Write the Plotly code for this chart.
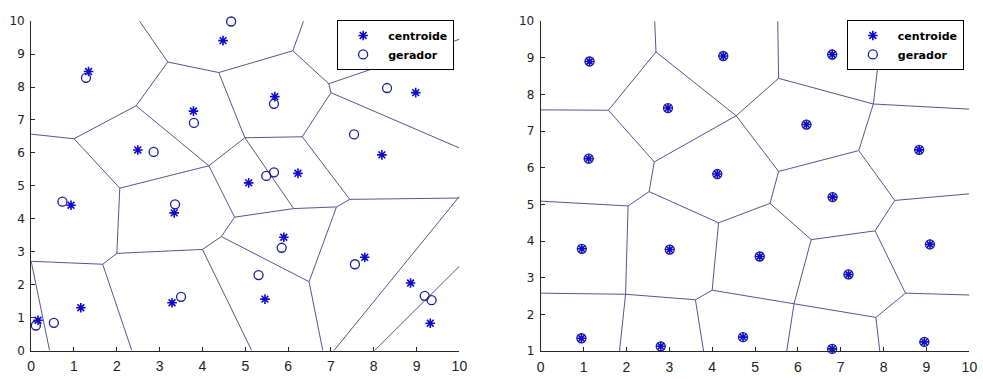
import plotly.graph_objects as go

# ---------------- left panel data ----------------
left_centroid_x = [1.34, 4.48, 3.79, 2.49, 5.69, 8.98, 8.19, 6.23, 5.08, 0.93, 3.34, 1.16, 3.29, 0.16, 5.90, 5.46, 7.79, 8.86, 9.32]
left_centroid_y = [8.47, 9.41, 7.27, 6.09, 7.71, 7.83, 5.94, 5.38, 5.09, 4.41, 4.18, 1.30, 1.45, 0.92, 3.44, 1.56, 2.83, 2.05, 0.83]
left_gen_x = [1.28, 4.67, 3.80, 2.86, 5.67, 8.31, 7.54, 5.67, 5.49, 0.73, 3.36, 3.50, 0.11, 0.53, 5.85, 5.31, 7.56, 9.19, 9.35]
left_gen_y = [8.28, 9.99, 6.91, 6.03, 7.49, 7.97, 6.56, 5.41, 5.30, 4.52, 4.44, 1.63, 0.76, 0.84, 3.12, 2.29, 2.62, 1.66, 1.53]

# Voronoi edges (x0, y0, x1, y1)
left_edges = [
    (2.53, 10.0, 3.19, 8.76), (3.19, 8.76, 4.38, 8.44), (4.38, 8.44, 6.11, 9.10),
    (6.11, 9.10, 6.36, 10.0), (6.11, 9.10, 6.95, 8.10), (6.95, 8.10, 7.00, 7.83),
    (6.95, 8.10, 10.0, 9.45), (7.00, 7.83, 10.0, 6.15), (7.00, 7.83, 6.33, 6.49),
    (6.33, 6.49, 4.99, 6.46), (4.99, 6.46, 4.38, 8.44), (4.99, 6.46, 4.15, 5.61),
    (4.99, 6.46, 6.13, 4.31), (6.33, 6.49, 7.44, 4.59), (7.44, 4.59, 10.0, 4.63),
    (7.44, 4.59, 7.13, 4.36), (7.13, 4.36, 6.13, 4.31), (7.13, 4.36, 6.49, 2.09),
    (6.49, 2.09, 6.81, 0.0), (6.49, 2.09, 4.44, 3.46), (6.13, 4.31, 4.75, 4.05),
    (4.75, 4.05, 4.15, 5.61), (4.75, 4.05, 4.44, 3.46), (4.44, 3.46, 4.00, 3.07),
    (4.00, 3.07, 5.15, 0.0), (4.00, 3.07, 2.00, 2.95), (2.00, 2.95, 2.07, 4.93),
    (2.07, 4.93, 4.15, 5.61), (2.07, 4.93, 1.00, 6.43), (1.00, 6.43, 0.0, 6.57),
    (1.00, 6.43, 2.45, 7.43), (2.45, 7.43, 3.19, 8.76), (2.45, 7.43, 4.15, 5.61),
    (2.00, 2.95, 1.67, 2.62), (1.67, 2.62, 2.35, 0.0), (1.67, 2.62, 0.0, 2.71),
    (0.0, 2.71, 0.43, 0.0), (10.0, 4.68, 7.07, 0.0), (10.0, 2.56, 8.02, 0.0),
]

# ---------------- right panel data ----------------
right_x = [1.14, 4.26, 6.80, 2.97, 6.20, 1.12, 4.12, 8.83, 6.81, 0.96, 3.01, 5.11, 9.08, 7.18, 0.95, 2.80, 4.72, 6.80, 8.95]
right_y = [8.90, 9.05, 9.09, 7.63, 7.18, 6.25, 5.83, 6.49, 5.20, 3.79, 3.77, 3.58, 3.91, 3.09, 1.35, 1.13, 1.38, 1.06, 1.25]

right_edges = [
    (2.66, 10.0, 2.69, 9.16), (2.69, 9.16, 1.58, 7.57), (1.58, 7.57, 0.0, 7.58),
    (1.58, 7.57, 2.65, 6.16), (2.69, 9.16, 4.56, 7.42), (2.65, 6.16, 4.56, 7.42),
    (4.56, 7.42, 5.55, 8.44), (5.55, 8.44, 5.53, 10.0), (5.55, 8.44, 7.76, 7.74),
    (7.76, 7.74, 7.99, 10.0), (7.76, 7.74, 10.0, 7.60), (7.76, 7.74, 7.42, 6.47),
    (7.42, 6.47, 5.55, 5.90), (5.55, 5.90, 4.56, 7.42), (5.55, 5.90, 5.35, 5.03),
    (2.65, 6.16, 2.53, 5.35), (2.53, 5.35, 2.04, 4.96), (2.04, 4.96, 0.0, 5.09),
    (2.04, 4.96, 1.98, 2.55), (1.98, 2.55, 0.0, 2.58), (1.98, 2.55, 1.84, 1.0),
    (1.98, 2.55, 3.61, 2.40), (3.61, 2.40, 3.80, 1.0), (3.61, 2.40, 4.00, 2.66),
    (2.53, 5.35, 4.15, 4.50), (4.15, 4.50, 4.00, 2.66), (4.15, 4.50, 5.35, 5.03),
    (5.35, 5.03, 6.31, 4.04), (6.31, 4.04, 7.80, 4.28), (7.80, 4.28, 8.26, 5.11),
    (8.26, 5.11, 7.42, 6.47), (8.26, 5.11, 10.0, 5.29), (7.80, 4.28, 8.51, 2.58),
    (8.51, 2.58, 10.0, 2.53), (8.51, 2.58, 7.82, 1.92), (7.82, 1.92, 7.91, 1.0),
    (7.82, 1.92, 5.91, 2.29), (5.91, 2.29, 6.31, 4.04), (5.91, 2.29, 5.74, 1.0),
    (4.00, 2.66, 5.91, 2.29),
]

ticks_x = list(range(0, 11))
ticks_left_y = list(range(0, 11))
ticks_right_y = list(range(1, 11))

LINE_COLOR = "#55558f"
STAR_COLOR = "#0a0ad0"
CIRC_COLOR = "#1c1c96"
AXIS_COLOR = "#262626"


def seg_xy(edges):
    xs, ys = [], []
    for x0, y0, x1, y1 in edges:
        xs += [x0, x1, None]
        ys += [y0, y1, None]
    return xs, ys


star_marker = dict(symbol="asterisk-open", size=8, color=STAR_COLOR, line=dict(color=STAR_COLOR, width=1.6))
circ_marker = dict(symbol="circle-open", size=9, color=CIRC_COLOR, line=dict(color=CIRC_COLOR, width=1.3))

fig = go.Figure()

lx, ly = seg_xy(left_edges)
fig.add_trace(go.Scatter(x=lx, y=ly, mode="lines", line=dict(color=LINE_COLOR, width=1),
                         showlegend=False, hoverinfo="skip", xaxis="x", yaxis="y"))
fig.add_trace(go.Scatter(x=left_centroid_x, y=left_centroid_y, mode="markers", name="centroide",
                         marker=star_marker, cliponaxis=False, legend="legend", xaxis="x", yaxis="y"))
fig.add_trace(go.Scatter(x=left_gen_x, y=left_gen_y, mode="markers", name="gerador",
                         marker=circ_marker, cliponaxis=False, legend="legend", xaxis="x", yaxis="y"))

rx, ry = seg_xy(right_edges)
fig.add_trace(go.Scatter(x=rx, y=ry, mode="lines", line=dict(color=LINE_COLOR, width=1),
                         showlegend=False, hoverinfo="skip", xaxis="x2", yaxis="y2"))
fig.add_trace(go.Scatter(x=right_x, y=right_y, mode="markers", name="centroide",
                         marker=star_marker, cliponaxis=False, legend="legend2", xaxis="x2", yaxis="y2"))
fig.add_trace(go.Scatter(x=right_x, y=right_y, mode="markers", name="gerador",
                         marker=circ_marker, cliponaxis=False, legend="legend2", xaxis="x2", yaxis="y2"))

axis_common = dict(showgrid=False, zeroline=False, showline=True, linecolor=AXIS_COLOR, linewidth=1,
                   ticks="inside", ticklen=4, tickcolor=AXIS_COLOR, mirror=False)
xfont = dict(family="Liberation Sans, Arial", size=14, color="#222222")
yfont = dict(family="DejaVu Sans, Arial", size=12, color="#222222")

legend_common = dict(bgcolor="white", bordercolor="black", borderwidth=1,
                     font=dict(family="DejaVu Sans", size=11, color="black", weight="bold"),
                     xanchor="left", yanchor="top", tracegroupgap=0, itemwidth=40)

fig.update_layout(
    width=983, height=379,
    margin=dict(l=0, r=0, t=0, b=0),
    paper_bgcolor="white", plot_bgcolor="white",
    xaxis=dict(domain=[0.02798, 0.4690], range=[0, 10], tickvals=ticks_x, anchor="y",
               tickfont=xfont, ticklabelstandoff=3, **axis_common),
    yaxis=dict(domain=[0.0588, 0.9612], range=[0, 10], tickvals=ticks_left_y, anchor="x",
               tickfont=yfont, ticklabelstandoff=3, **axis_common),
    xaxis2=dict(domain=[0.5527, 0.9942], range=[0, 10], tickvals=ticks_x, anchor="y2",
                tickfont=xfont, ticklabelstandoff=3, **axis_common),
    yaxis2=dict(domain=[0.0573, 0.9612], range=[1, 10], tickvals=ticks_right_y, anchor="x2",
                tickfont=yfont, ticklabelstandoff=3, **axis_common),
    legend=dict(x=0.3431, y=0.9645, **legend_common),
    legend2=dict(x=0.868, y=0.9645, **legend_common),
)

fig.write_html("out.html")
